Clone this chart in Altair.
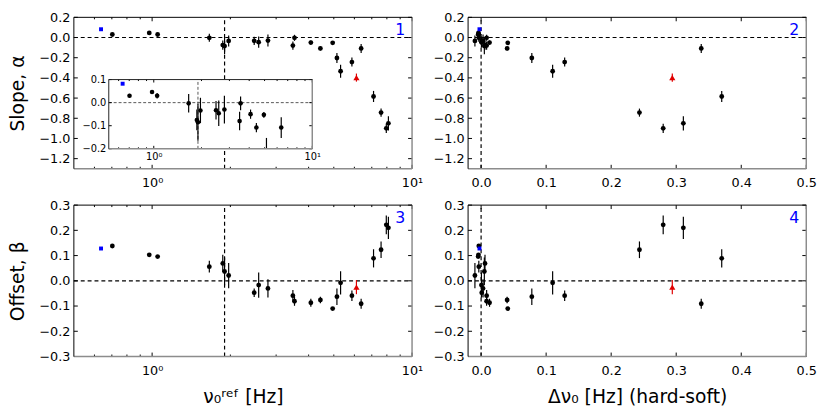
import altair as alt
import pandas as pd

# ---------------- data ----------------
nu_ref = [0.636, 0.703, 0.975, 1.05, 1.66, 1.87, 1.90, 1.97, 2.47, 2.57, 2.79, 3.48, 3.53,
          4.08, 4.44, 4.95, 5.14, 5.31, 5.87, 6.11, 6.37, 7.11, 7.60, 7.96, 8.11]
dnu = [-0.0025, -0.0035, -0.004, -0.0045, -0.0035, 0.006, 0.005, -0.0095, 0.001, 0.0005, 0.003,
       0.0085, 0.0085, 0.013, 0.040, 0.041, 0.078, 0.110, 0.1285, 0.294, 0.3385, 0.370, 0.2435,
       0.280, 0.311]
alpha = [0.082, 0.030, 0.046, 0.030, -0.003, -0.075, -0.085, -0.034, -0.033, -0.046, -0.030,
         -0.080, -0.003, -0.050, -0.108, -0.053, -0.203, -0.334, -0.243, -0.397, -0.108, -0.584,
         -0.744, -0.900, -0.850]
alpha_err = [0.0, 0.008, 0.008, 0.012, 0.04, 0.045, 0.08, 0.055, 0.04, 0.055, 0.06, 0.04, 0.03,
             0.02, 0.02, 0.012, 0.05, 0.065, 0.045, 0.04, 0.045, 0.055, 0.04, 0.045, 0.07]
beta = [0.128, 0.138, 0.103, 0.096, 0.056, 0.069, 0.037, 0.021, -0.047, -0.017, -0.030, -0.059,
        -0.081, -0.087, -0.076, -0.110, -0.063, -0.008, -0.059, -0.025, -0.091, 0.089, 0.123,
        0.222, 0.210]
beta_err = [0.0, 0.005, 0.005, 0.005, 0.023, 0.034, 0.055, 0.05, 0.017, 0.05, 0.036, 0.023, 0.018,
            0.016, 0.013, 0.005, 0.033, 0.046, 0.021, 0.028, 0.02, 0.036, 0.033, 0.037, 0.044]
kind = ["ref"] + ["obs"] * 18 + ["out"] + ["obs"] * 5

# axis ticks / labels
log_major = [1, 10]
log_minor = [0.6, 0.7, 0.8, 0.9, 2, 3, 4, 5, 6, 7, 8, 9]
lin_x_major = [0.0, 0.1, 0.2, 0.3, 0.4, 0.5]
alpha_ticks = [-1.2, -1.0, -0.8, -0.6, -0.4, -0.2, 0.0, 0.2]
beta_ticks = [-0.3, -0.2, -0.1, 0.0, 0.1, 0.2, 0.3]
inset_y_ticks = [-0.2, -0.1, 0.0, 0.1]

# ---------------- helpers ----------------
df = pd.DataFrame(dict(nu=nu_ref, dnu=dnu, alpha=alpha, aerr=alpha_err,
                       beta=beta, berr=beta_err, kind=kind))
df["alo"] = df.alpha - df.aerr
df["ahi"] = df.alpha + df.aerr
df["blo"] = df.beta - df.berr
df["bhi"] = df.beta + df.berr

PW, PH = 344, 154
FONT = "DejaVu Sans"
BLUE = "#0000ff"
RED = "#e00000"
one = pd.DataFrame({"z": [0]})
col_scale = alt.Scale(domain=["obs", "ref", "out"], range=["black", BLUE, RED])
LOGEXPR = "datum.value == 1 ? '10⁰' : (datum.value == 10 ? '10¹' : '')"


class Ctx:
    def __init__(self, xs, ys, xax, yax, xdom, ydom):
        self.xs, self.ys, self.xax, self.yax = xs, ys, xax, yax
        self.xdom, self.ydom = xdom, ydom

    def XF(self, f):
        return alt.X(f, type="quantitative", scale=self.xs, axis=self.xax)

    def YF(self, f):
        return alt.Y(f, type="quantitative", scale=self.ys, axis=self.yax)

    def XD(self, v):
        return alt.XDatum(v, scale=self.xs, axis=self.xax)

    def YD(self, v):
        return alt.YDatum(v, scale=self.ys, axis=self.yax)


def deco(c, xmaj, xmin_, ymaj, L=4, l=2, dark="black", light="#8c8c8c"):
    x0, x1 = c.xdom
    y0, y1 = c.ydom
    lay = []
    for vals, ln in [(xmaj, L), (xmin_, l)]:
        if not vals:
            continue
        t = alt.Chart(pd.DataFrame({"v": vals}))
        lay.append(t.mark_rule(color="black", strokeWidth=1, y2Offset=-ln).encode(
            x=c.XF("v"), y=c.YD(y0), y2=alt.Y2Datum(y0)))
        lay.append(t.mark_rule(color="black", strokeWidth=1, y2Offset=ln).encode(
            x=c.XF("v"), y=c.YD(y1), y2=alt.Y2Datum(y1)))
    t = alt.Chart(pd.DataFrame({"v": ymaj}))
    lay.append(t.mark_rule(color="black", strokeWidth=1, x2Offset=L).encode(
        y=c.YF("v"), x=c.XD(x0), x2=alt.X2Datum(x0)))
    lay.append(t.mark_rule(color="black", strokeWidth=1, x2Offset=-L).encode(
        y=c.YF("v"), x=c.XD(x1), x2=alt.X2Datum(x1)))
    o = alt.Chart(one)
    lay.append(o.mark_rule(color=light, strokeWidth=1.5).encode(
        x=c.XD(x0), x2=alt.X2Datum(x1), y=c.YD(y0)))
    lay.append(o.mark_rule(color=light, strokeWidth=1.5).encode(
        x=c.XD(x1), y=c.YD(y0), y2=alt.Y2Datum(y1)))
    lay.append(o.mark_rule(color=dark, strokeWidth=1).encode(
        x=c.XD(x0), x2=alt.X2Datum(x1), y=c.YD(y1)))
    lay.append(o.mark_rule(color=dark, strokeWidth=1).encode(
        x=c.XD(x0), y=c.YD(y0), y2=alt.Y2Datum(y1)))
    return lay


def data_layers(c, data, xf, yf, lo, hi, sizes=(24, 16, 40), with_out=True):
    base = alt.Chart(data)
    lay = [
        base.mark_rule(strokeWidth=1.2).encode(
            x=c.XF(xf), y=c.YF(lo), y2=alt.Y2(hi),
            color=alt.Color("kind:N", scale=col_scale, legend=None)),
        base.transform_filter("datum.kind == 'obs'").mark_point(
            filled=True, opacity=1, shape="circle", size=sizes[0], color="black").encode(
            x=c.XF(xf), y=c.YF(yf)),
    ]
    if with_out:
        lay.append(base.transform_filter("datum.kind == 'out'").mark_point(
            filled=True, opacity=1, shape="triangle-up", size=sizes[2], color=RED).encode(
            x=c.XF(xf), y=c.YF(yf)))
    lay.append(base.transform_filter("datum.kind == 'ref'").mark_point(
        filled=True, opacity=1, shape="square", size=sizes[1], color=BLUE).encode(
        x=c.XF(xf), y=c.YF(yf)))
    return lay


def ref_lines(c, vx, color="black", width=1.2, dash=(4, 3)):
    o = alt.Chart(one)
    return [
        o.mark_rule(color=color, strokeWidth=width, strokeDash=list(dash)).encode(
            x=c.XD(c.xdom[0]), x2=alt.X2Datum(c.xdom[1]), y=c.YD(0)),
        o.mark_rule(color=color, strokeWidth=width, strokeDash=list(dash)).encode(
            x=c.XD(vx), y=c.YD(c.ydom[0]), y2=alt.Y2Datum(c.ydom[1])),
    ]


def label(c, num):
    return alt.Chart(one).mark_text(
        text=str(num), color=BLUE, fontSize=16, align="right", baseline="middle",
        dx=-7, dy=13, font=FONT).encode(x=c.XD(c.xdom[1]), y=c.YD(c.ydom[1]))


def panel(num, xfield, yfield, lo, hi, log, ydom, yticks, ytitle, xtitle, vx):
    if log:
        xdom = [0.5, 10]
        xs = alt.Scale(type="log", domain=xdom, nice=False)
        xax = alt.Axis(values=log_major, labelExpr=LOGEXPR, title=xtitle, orient="bottom")
        xmaj, xmin_ = log_major, log_minor
    else:
        xdom = [-0.02, 0.5]
        xs = alt.Scale(domain=xdom, nice=False, zero=False)
        xax = alt.Axis(values=lin_x_major, format=".1f", title=xtitle, orient="bottom")
        xmaj, xmin_ = lin_x_major, []
    ys = alt.Scale(domain=ydom, nice=False, zero=False)
    yax = alt.Axis(values=yticks, format=".1f", title=ytitle, orient="left")
    c = Ctx(xs, ys, xax, yax, xdom, ydom)
    lay = ref_lines(c, vx)
    lay += data_layers(c, df, xfield, yfield, lo, hi)
    lay += deco(c, xmaj, xmin_, yticks)
    lay.append(label(c, num))
    return alt.layer(*lay)


# ---------------- inset for panel 1 ----------------
ix = [0.52, 10]
iy = [-0.2, 0.1]
IX0, IX1 = 35.5, 242.5
IY0, IY1 = 133.7, 63.3
ins = df.copy()
ins["alo"] = ins.alo.clip(lower=iy[0])
ins["ahi"] = ins.ahi.clip(upper=iy[1])
ins_bars = ins[ins.ahi > ins.alo]
ins_pts = ins[(ins.alpha >= iy[0]) & (ins.alpha <= iy[1])]

ixs = alt.Scale(type="log", domain=ix, nice=False, range=[IX0, IX1])
iys = alt.Scale(domain=iy, nice=False, zero=False, range=[IY0, IY1])
ixax = alt.Axis(values=log_major, labelExpr=LOGEXPR, title=None, orient="bottom",
                offset=-(PH - IY0), labelFontSize=10, labelPadding=3, zindex=1)
iyax = alt.Axis(values=inset_y_ticks, format=".1f", title=None, orient="left",
                offset=-IX0, labelFontSize=10, labelPadding=3, zindex=1)
ic = Ctx(ixs, iys, ixax, iyax, ix, iy)

inset_layers = [
    alt.Chart(one).mark_rect(fill="white").encode(
        x=ic.XD(ix[0]), x2=alt.X2Datum(ix[1]), y=ic.YD(iy[0]), y2=alt.Y2Datum(iy[1])),
]
inset_layers += ref_lines(ic, 1.9, color="#444444", width=0.9, dash=(3, 2))
inset_layers.append(alt.Chart(ins_bars).mark_rule(strokeWidth=1.2).encode(
    x=ic.XF("nu"), y=ic.YF("alo"), y2=alt.Y2("ahi"),
    color=alt.Color("kind:N", scale=col_scale, legend=None)))
ip = alt.Chart(ins_pts)
inset_layers += [
    ip.transform_filter("datum.kind == 'obs'").mark_point(
        filled=True, opacity=1, shape="circle", size=22, color="black").encode(
        x=ic.XF("nu"), y=ic.YF("alpha")),
    ip.transform_filter("datum.kind == 'ref'").mark_point(
        filled=True, opacity=1, shape="square", size=16, color=BLUE).encode(
        x=ic.XF("nu"), y=ic.YF("alpha")),
]
inset_layers += deco(ic, log_major, log_minor, inset_y_ticks, L=3, l=1.5,
                     dark="#222222", light="#8c8c8c")
inset = alt.layer(*inset_layers)

p1_main = panel(1, "nu", "alpha", "alo", "ahi", True, [-1.3, 0.2], alpha_ticks,
                "Slope, α", None, 1.9)
p1 = alt.layer(p1_main, inset).resolve_scale(x="independent", y="independent") \
    .properties(width=PW, height=PH)
p2 = panel(2, "dnu", "alpha", "alo", "ahi", False, [-1.3, 0.2], alpha_ticks,
           None, None, 0.0).properties(width=PW, height=PH)
p3 = panel(3, "nu", "beta", "blo", "bhi", True, [-0.3, 0.3], beta_ticks,
           "Offset, β", "ν₀ʳᵉᶠ [Hz]", 1.9).properties(width=PW, height=PH)
p4 = panel(4, "dnu", "beta", "blo", "bhi", False, [-0.3, 0.3], beta_ticks,
           None, "Δν₀ [Hz] (hard-soft)", 0.0).properties(width=PW, height=PH)

chart = alt.concat(p1, p2, p3, p4, columns=2, spacing={"row": 37, "column": 57},
                   bounds="flush").properties(
    padding={"left": 0, "top": 0, "right": 5, "bottom": 5},
    background="white",
).configure_view(stroke=None).configure_axis(
    labelFont=FONT, titleFont=FONT, labelFontSize=13, titleFontSize=19,
    titleFontWeight="normal", labelColor="black", titleColor="black",
    domain=False, ticks=False, grid=False, labelFlush=False, labelPadding=4,
).configure_axisY(titlePadding=12).configure_axisX(titlePadding=11, labelPadding=8)

chart.save("out.html", embed_options={"renderer": "svg", "actions": False})
